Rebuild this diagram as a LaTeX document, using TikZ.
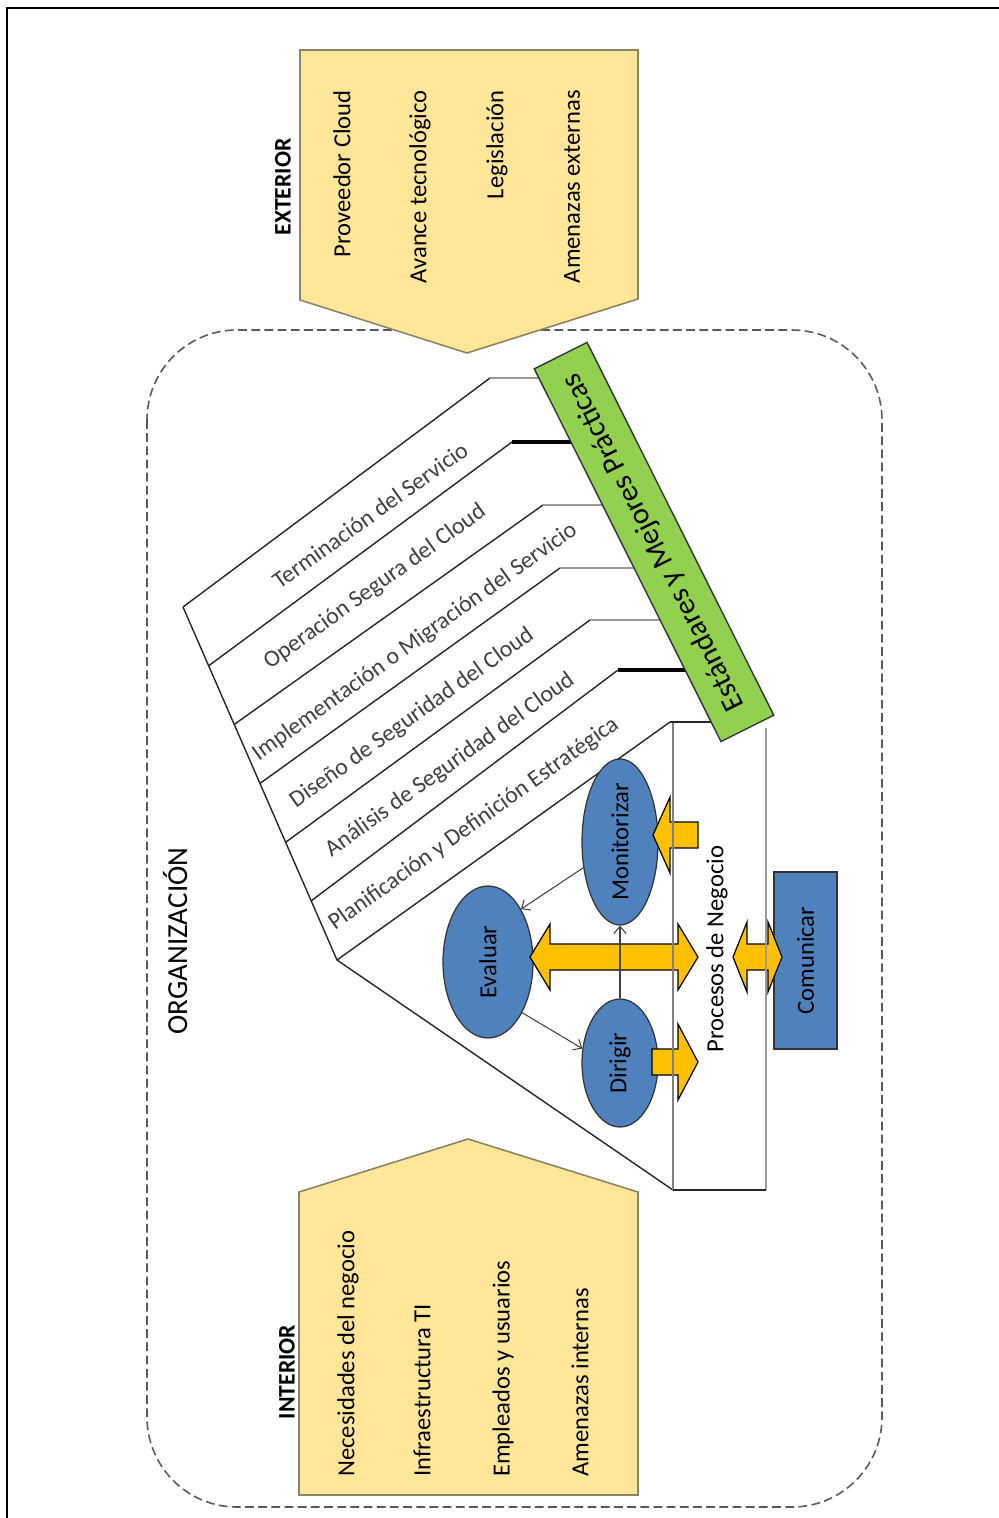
\documentclass[tikz,border=0pt]{standalone}
\usepackage{fontspec}
\setmainfont{Carlito}
\usetikzlibrary{shapes.geometric,arrows.meta}

\definecolor{boxfill}{HTML}{FFE699}
\definecolor{boxline}{HTML}{8C8462}
\definecolor{barfill}{HTML}{92D050}
\definecolor{roleblue}{HTML}{4F81BD}
\definecolor{flowgold}{HTML}{FFC000}

\begin{document}
\begin{tikzpicture}[x=0.02cm,y=-0.02cm,
  every node/.style={inner sep=0pt},
  frameline/.style={line width=1.5pt},
  orgline/.style={draw=black!65, line width=0.9pt, dash pattern=on 5pt off 2.5pt},
  boxshape/.style={fill=boxfill, draw=boxline, line width=0.9pt},
  itemtext/.style={rotate=90, font=\fontsize{14}{16}\selectfont},
  headtext/.style={rotate=90, font=\bfseries\fontsize{13.5}{16}\selectfont},
  phase/.style={draw=black!85, line width=0.8pt},
  phasetext/.style={rotate=35.5, text=black!75, font=\fontsize{13.5}{16}\selectfont},
  role/.style={ellipse, rotate=90, fill=roleblue, draw=black!80, line width=0.7pt, font=\fontsize{14}{16}\selectfont},
  flow/.style={fill=flowgold, draw=black, line width=0.7pt, line join=miter},
  link/.style={-{Straight Barb[length=4pt,width=7pt]}, draw=black!75, line width=0.6pt},
  sideline/.style={draw=black!50, line width=1.6pt},
  tieline/.style={draw=black!40, line width=1pt},
  boldtie/.style={draw=black, line width=1.8pt},
]
\useasboundingbox (0,0) rectangle (999,1518);

% outer frame (only its top and left edges fall inside the page)
\draw[frameline] (7,1518) -- (7,8) -- (999,8);

% organisation boundary
\draw[orgline, rounded corners=1.8cm] (147,330) rectangle (882,1507);
\node[rotate=90, font=\fontsize{16.5}{18}\selectfont] (org) at (175,941) {ORGANIZACIÓN};

% exterior factors
\draw[boxshape] (300,50) -- (638,50) -- (638,299) -- (467,353) -- (300,300) -- cycle;
\node[headtext] (ext) at (283,187) {EXTERIOR};
\node[itemtext, anchor=east] (ex1) at (342,90) {Proveedor Cloud};
\node[itemtext, anchor=east] (ex2) at (420,90) {Avance tecnológico};
\node[itemtext, anchor=east] (ex3) at (497,90) {Legislación};
\node[itemtext, anchor=east] (ex4) at (572,90) {Amenazas externas};

% interior factors
\draw[boxshape] (299,1192) -- (468,1139) -- (638,1192) -- (638,1495) -- (299,1495) -- cycle;
\node[headtext] (int) at (287,1372) {INTERIOR};
\node[itemtext, anchor=west] (in1) at (348,1477) {Necesidades del negocio};
\node[itemtext, anchor=west] (in2) at (422,1477) {Infraestructura TI};
\node[itemtext, anchor=west] (in3) at (503,1477) {Empleados y usuarios};
\node[itemtext, anchor=west] (in4) at (580,1477) {Amenazas internas};

% lifecycle bands
\draw[phase] (183,607) -- (337,960) -- (673,1190);
\draw[phase] (183,607) -- (490,378);
\draw[phase] (208.6,665.8) -- (512,442);
\draw[phase] (234,724.6) -- (543,505);
\draw[phase] (260,783.4) -- (560,568);
\draw[phase] (286,842) -- (590,620);
\draw[phase] (311,901) -- (618,670);
\draw[phase] (337,960) -- (670,722);

\draw[tieline] (490,378) -- (542,378);
\draw[boldtie] (512,442) -- (574,442);
\draw[tieline] (543,505) -- (605,505);
\draw[tieline] (560,568) -- (636,568);
\draw[tieline] (590,620) -- (662,620);
\draw[boldtie] (618,670) -- (688,670);

\node[phasetext] (p1) at (370,515) {Terminación del Servicio};
\node[phasetext] (p2) at (375,587) {Operación Segura del Cloud};
\node[phasetext] (p3) at (415,642) {Implementación o Migración del Servicio};
\node[phasetext] (p4) at (412,718) {Diseño de Seguridad del Cloud};
\node[phasetext] (p5) at (450,765) {Análisis de Seguridad del Cloud};
\node[phasetext] (p6) at (474,824) {Planificación y Definición Estratégica};

% governance roles
\node[role, minimum width=2.8cm, minimum height=1.52cm] (mon) at (620,842) {Monitorizar};
\node[role, minimum width=3.04cm, minimum height=1.8cm] (eva) at (488,962) {Evaluar};
\node[role, minimum width=2.56cm, minimum height=1.52cm] (dir) at (620,1063) {Dirigir};
\node[rotate=90, fill=roleblue, draw=black!80, line width=0.7pt,
      minimum width=3.54cm, minimum height=1.26cm,
      font=\fontsize{14}{16}\selectfont] (com) at (805.5,960.5) {Comunicar};

% block arrows towards the business processes
\draw[flow] (530,957) -- (550,924) -- (550,944) -- (678,944) -- (678,924) -- (698,957)
  -- (678,990) -- (678,970) -- (550,970) -- (550,990) -- cycle;
\draw[flow] (733,957) -- (747,922) -- (747,944) -- (768,944) -- (768,922) -- (782,957)
  -- (768,992) -- (768,970) -- (747,970) -- (747,992) -- cycle;
\draw[flow] (653,835) -- (670,797) -- (670,822) -- (698,822) -- (698,848) -- (670,848)
  -- (670,873) -- cycle;
\draw[flow] (652,1049) -- (678,1049) -- (678,1024) -- (698,1062) -- (678,1100)
  -- (678,1075) -- (652,1075) -- cycle;

% business processes frame
\draw[sideline] (673,722) -- (673,1190);
\draw[sideline, draw=black!40, line width=1.3pt] (766,728) -- (766,1190);
\draw[phase] (673,1190) -- (766,1190);
\draw[phase] (670,722) -- (712,722);
\node[rotate=90, font=\fontsize{14}{16}\selectfont] (proc) at (717,949) {Procesos de Negocio};

% governance cycle
\draw[link] (mon.125) -- (eva.-32);
\draw[link] (eva.-146) -- (dir.69);
\draw[link] (dir.east) -- (mon.west);

% standards bar
\node[rotate=116.6, fill=barfill, draw=black!80, line width=0.8pt,
      minimum width=8.34cm, minimum height=1.18cm,
      font=\fontsize{17}{19}\selectfont] (std) at (654,542) {Estándares y Mejores Prácticas};

\end{tikzpicture}
\end{document}
